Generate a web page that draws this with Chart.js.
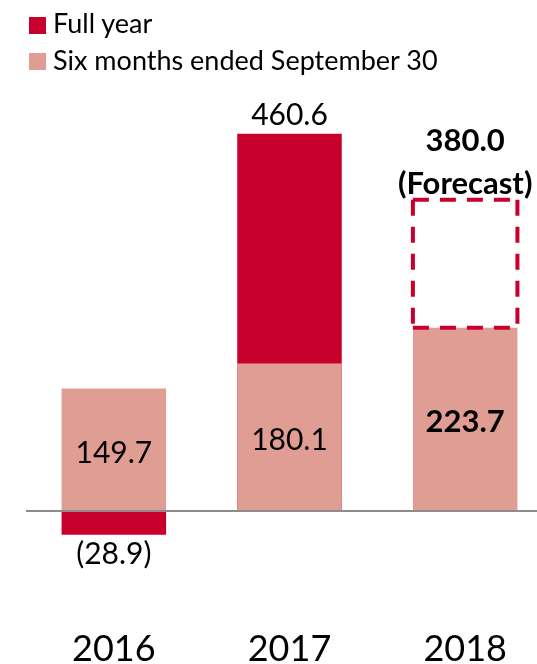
<!DOCTYPE html>
<html>
<head>
<meta charset="utf-8">
<title>Operating results</title>
<script src="https://cdn.jsdelivr.net/npm/chart.js@4.4.1/dist/chart.umd.min.js"></script>
<style>
  html, body { margin: 0; padding: 0; background: #fff; width: 537px; height: 664px; overflow: hidden; }
  #legend { position: absolute; left: 0; top: 0; font-family: Lato, sans-serif; font-size: 27px; color: #000; z-index: 2; }
  #legend .item { position: absolute; white-space: nowrap; line-height: 27px; }
  #legend .swatch { position: absolute; width: 17px; height: 17px; }
  #wrap { position: absolute; left: 0; top: 0; }
</style>
</head>
<body>
<div id="legend">
  <div class="swatch" style="left:29px;top:17px;background:#C8002E"></div>
  <div class="item" style="left:53px;top:9px">Full year</div>
  <div class="swatch" style="left:29px;top:53px;background:#DF9D93"></div>
  <div class="item" style="left:53px;top:46px">Six months ended September 30</div>
</div>
<div id="wrap"><canvas id="chart" width="560" height="697"></canvas></div>
<script>
// values (billions of yen)
const years = ['2016', '2017', '2018'];
const fullYear = [-28.9, 460.6, null];
const sixMonths = [149.7, 180.1, 223.7];
const forecast = [null, null, 380.0];

const RED = '#C8002E';
const PINK = '#DF9D93';
const FONT = 'Lato, sans-serif';

/* ---------------------------
   Helpers
   --------------------------- */

function fmt(v) {
  if (v === null || v === undefined) return '';
  return v < 0 ? '(' + Math.abs(v).toFixed(1) + ')' : v.toFixed(1);
}

// forecast box sits on top of the half-year bar
const forecastBars = years.map((_, i) => forecast[i] === null ? null : [sixMonths[i], forecast[i]]);

/* ---------------------------
   Zero line, labels, dashed forecast box
   --------------------------- */

const barLabels = {
  id: 'barLabels',
  afterDatasetsDraw(chart) {
    const ctx = chart.ctx;
    const area = chart.chartArea;
    ctx.save();

    // baseline at 0, drawn over the bars
    const y0 = Math.round(chart.scales.y.getPixelForValue(0));
    ctx.strokeStyle = '#8C8C8C';
    ctx.lineWidth = 2;
    ctx.beginPath();
    ctx.moveTo(area.left, y0);
    ctx.lineTo(area.right, y0);
    ctx.stroke();

    ctx.fillStyle = '#000';
    ctx.textAlign = 'center';
    ctx.textBaseline = 'alphabetic';

    // full year: above positive bars, below negative ones
    chart.getDatasetMeta(0).data.forEach((bar, i) => {
      const v = fullYear[i];
      if (v === null) return;
      ctx.font = '30px ' + FONT;
      if (v >= 0) ctx.fillText(fmt(v), bar.x, bar.y - 9);
      else ctx.fillText(fmt(v), bar.x, bar.y + 29);
    });

    // six months: centred inside the bar
    chart.getDatasetMeta(1).data.forEach((bar, i) => {
      const mid = (bar.y + bar.base) / 2;
      ctx.font = (forecast[i] !== null ? 'bold 31px ' : '30px ') + FONT;
      ctx.fillText(fmt(sixMonths[i]), bar.x, mid + 13);
    });

    // forecast: dashed outline + two-line caption
    chart.getDatasetMeta(2).data.forEach((bar, i) => {
      if (forecast[i] === null) return;
      const l = bar.x - bar.width / 2, r = bar.x + bar.width / 2;
      const t = bar.y, b = bar.base;
      ctx.strokeStyle = RED;
      ctx.lineWidth = 4;
      ctx.setLineDash([16, 11]);
      [[l, t, r, t], [l, t, l, b], [r, t, r, b], [l, b, r, b]].forEach(s => {
        ctx.beginPath();
        ctx.moveTo(s[0], s[1]);
        ctx.lineTo(s[2], s[3]);
        ctx.stroke();
      });
      ctx.setLineDash([]);
      ctx.font = 'bold 31px ' + FONT;
      ctx.fillText(fmt(forecast[i]), bar.x, t - 49);
      ctx.fillText('(Forecast)', bar.x, t - 6);
    });
    ctx.restore();
  }
};

/* ---------------------------
   Chart
   --------------------------- */

const barOpts = { grouped: false, categoryPercentage: 1, barPercentage: 0.595, borderWidth: 0 };

new Chart(document.getElementById('chart').getContext('2d'), {
  type: 'bar',
  data: {
    labels: years,
    datasets: [
      Object.assign({ label: 'Full year', data: fullYear, backgroundColor: RED, order: 2 }, barOpts),
      Object.assign({ label: 'Six months ended September 30', data: sixMonths, backgroundColor: PINK, order: 1 }, barOpts),
      Object.assign({ label: 'Forecast', data: forecastBars, backgroundColor: 'rgba(0,0,0,0)', order: 0 }, barOpts)
    ]
  },
  options: {
    responsive: false,
    animation: false,
    layout: { padding: { left: 26, right: 7, top: 101.5, bottom: 0 } },
    plugins: { legend: { display: false }, tooltip: { enabled: false } },
    scales: {
      x: {
        grid: { display: false, drawTicks: false },
        border: { display: false },
        ticks: { color: '#000', padding: 26.35, font: { family: FONT, size: 36 } }
      },
      y: {
        min: -110,
        max: 500,
        border: { display: false },
        ticks: { display: false },
        grid: { display: false, drawTicks: false }
      }
    }
  },
  plugins: [barLabels]
});
</script>
</body>
</html>
